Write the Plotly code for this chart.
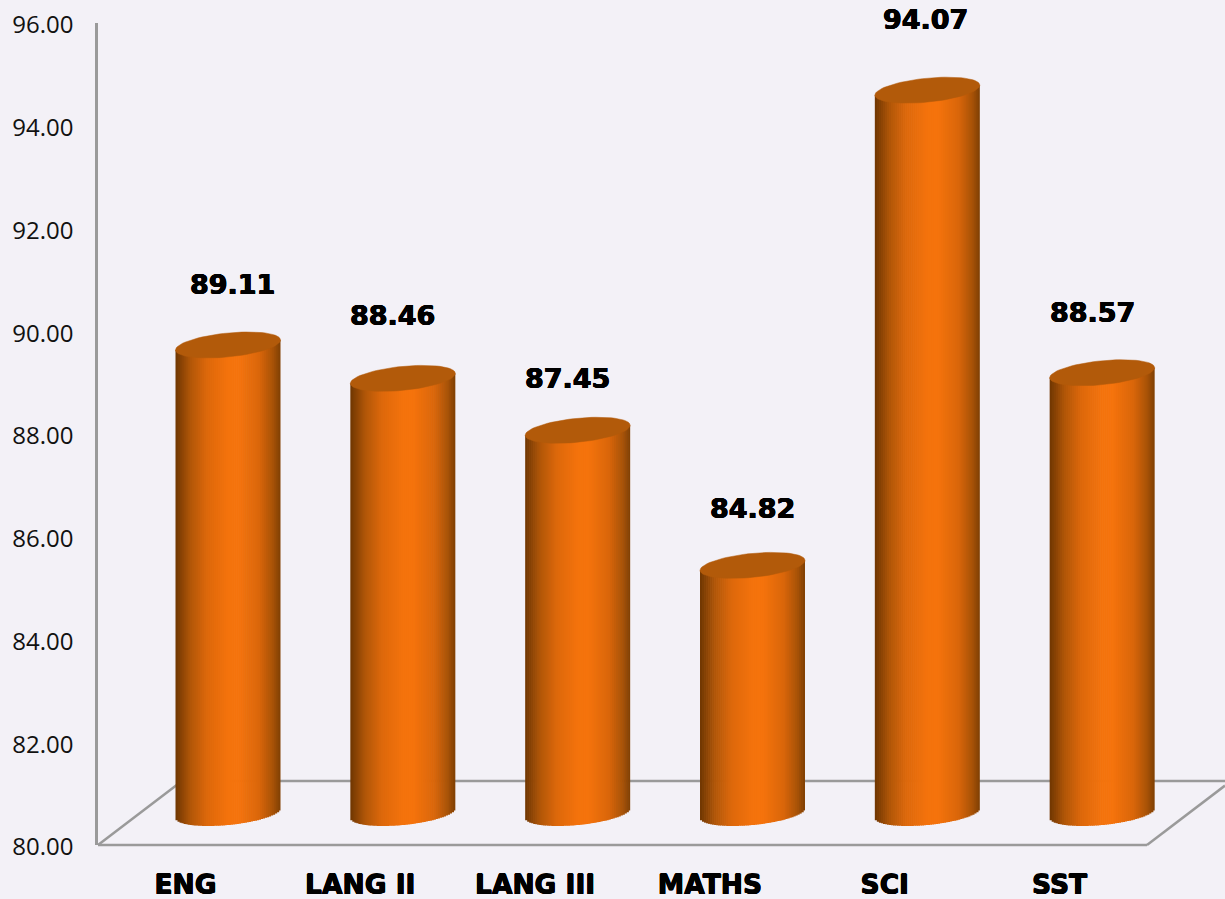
import numpy as np
import plotly.graph_objects as go

# ---- data ----
categories = ["ENG", "LANG II", "LANG III", "MATHS", "SCI", "SST"]
values = [89.11, 88.46, 87.45, 84.82, 94.07, 88.57]
y_ticks = [80, 82, 84, 86, 88, 90, 92, 94, 96]

# ---- layout constants (pixels) ----
W, H = 1225, 899
LEFT, TOP, FLOOR_Y = 98, 23, 845
RIGHT_FRONT = 1147
STEP = (RIGHT_FRONT - LEFT) / 6
PX_PER_UNIT = (FLOOR_Y - TOP) / 16
DEPTH_X, DEPTH_Y = 84, 64
BAR_W = 105
BAR_LIFT = 32
BAR_CENTER0 = 228
TILT = 5.0
ELL_B = 12.0
ARC_B = 12.0
BG = "#F3F1F7"
AXIS = "#9A9A9A"
TOP_COLOR = "#B25A0A"
HEAVY = "0.5px 0 0 #000, -0.5px 0 0 #000, 0 0.4px 0 #000, 0 -0.4px 0 #000"

grad_pos = [0, .14, .30, .50, .60, .80, .93, 1]
grad_col = [(0x6F, 0x36, 0x02), (0xB0, 0x56, 0x08), (0xDD, 0x68, 0x0B), (0xF4, 0x73, 0x0C),
            (0xF5, 0x73, 0x0C), (0xD9, 0x66, 0x0A), (0xA7, 0x52, 0x07), (0x7F, 0x40, 0x03)]
label_dx = [4, -10, -10, 0, -2, -10]
label_dy = [60, 63, 52, 57, 71, 60]

lift_u = BAR_LIFT / PX_PER_UNIT
plot_w = W - LEFT
x2_start = -(BAR_CENTER0 - LEFT) / STEP
x1_start = -0.5
span = plot_w / STEP

def colour(t):
    c = [np.interp(t, grad_pos, [g[i] for g in grad_col]) for i in range(3)]
    return "rgb(%d,%d,%d)" % tuple(round(v) for v in c)

fig = go.Figure()

# invisible trace carrying the category axis
fig.add_trace(go.Scatter(x=categories, y=[80] * 6, mode="markers",
                         marker=dict(opacity=0), xaxis="x", yaxis="y", hoverinfo="skip"))

# cylinders: vertical strips across each bar giving the shaded body
n = 52
sw = BAR_W / n
idx = np.arange(len(values))
vals = np.array(values, dtype=float)
for k in range(n):
    left_px = -BAR_W / 2 + k * sw
    u = (left_px + sw / 2) / (BAR_W / 2)
    arc_px = ARC_B * np.sqrt(max(0, 1 - u * u)) - TILT * u
    top_px = TILT * u
    base = np.full(6, 80 - arc_px / PX_PER_UNIT)
    top = vals + top_px / PX_PER_UNIT
    w = (sw + (0.7 if k < n - 1 else 0)) / STEP
    fig.add_trace(go.Bar(x=idx, y=top - base, base=base, width=[w] * 6,
                         offset=[left_px / STEP] * 6, marker=dict(color=colour((k + .5) / n), line_width=0),
                         xaxis="x2", yaxis="y2", hoverinfo="skip"))

# top caps
ex, ey = [], []
t = np.linspace(0, 2 * np.pi, 73)
for i, v in enumerate(values):
    ex += list(i + (BAR_W / 2 / STEP) * np.cos(t)) + [None]
    ey += list(v + (ELL_B * np.sin(t) + TILT * np.cos(t)) / PX_PER_UNIT) + [None]
fig.add_trace(go.Scatter(x=ex, y=ey, mode="lines", fill="toself", fillcolor=TOP_COLOR,
                         line=dict(color=TOP_COLOR, width=0.5), xaxis="x2", yaxis="y2", hoverinfo="skip"))

# value labels
annotations = [dict(x=i, y=v, xref="x2", yref="y2", text=f"{v:.2f}", showarrow=False,
                    xshift=label_dx[i], yshift=label_dy[i],
                    font=dict(family="DejaVu Sans", size=27, color="#000000", weight="bold", shadow=HEAVY))
               for i, v in enumerate(values)]

def px(x):
    return (x - LEFT) / (W - LEFT)
def py(y):
    return 1 - (y - TOP) / (FLOOR_Y - TOP)

floor_lines = [
    (LEFT, FLOOR_Y, RIGHT_FRONT, FLOOR_Y),
    (LEFT, FLOOR_Y, LEFT + DEPTH_X, FLOOR_Y - DEPTH_Y),
    (RIGHT_FRONT, FLOOR_Y, W, FLOOR_Y - DEPTH_Y * (W - RIGHT_FRONT) / DEPTH_X),
    (LEFT + DEPTH_X, FLOOR_Y - DEPTH_Y, W, FLOOR_Y - DEPTH_Y),
]
shapes = [dict(type="line", xref="paper", yref="paper", x0=px(a), y0=py(b), x1=px(c), y1=py(d),
               line=dict(color=AXIS, width=2.5), layer="below") for a, b, c, d in floor_lines]

fig.update_layout(
    width=W, height=H, margin=dict(l=LEFT, r=0, t=TOP, b=H - FLOOR_Y),
    paper_bgcolor=BG, plot_bgcolor=BG, showlegend=False, barmode="overlay", hovermode=False,
    annotations=annotations, shapes=shapes,
    xaxis=dict(type="category", range=[x1_start, x1_start + span], showgrid=False, showline=False,
               automargin=False,
               ticks="outside", ticklen=16, tickcolor="rgba(0,0,0,0)", zeroline=False,
               tickfont=dict(family="DejaVu Sans", size=26.5, color="#000000", weight="bold", shadow=HEAVY),
               categoryorder="array", categoryarray=categories, tickangle=0),
    yaxis=dict(range=[80, 96], tickvals=y_ticks, tickformat=".2f", showgrid=False, zeroline=False,
               automargin=False,
               showline=True, linecolor=AXIS, linewidth=2.5, ticks="outside", ticklen=17,
               ticklabelshift=2,
               tickcolor="rgba(0,0,0,0)", tickfont=dict(family="Open Sans", size=24, color="#111111")),
    xaxis2=dict(type="linear", overlaying="x", range=[x2_start, x2_start + span], visible=False),
    yaxis2=dict(overlaying="y", range=[80 - lift_u, 96 - lift_u], visible=False),
)
fig.write_html("out.html", config={"displayModeBar": False},
               post_script="document.body.style.margin='0';document.documentElement.style.background='%s';" % BG)
